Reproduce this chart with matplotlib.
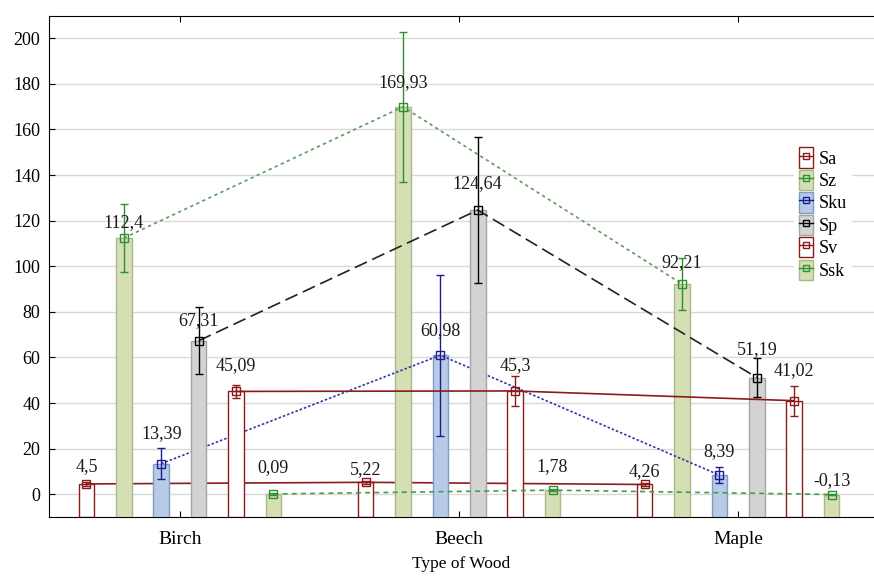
import numpy as np
import matplotlib.pyplot as plt
from matplotlib.patches import Rectangle
from matplotlib.lines import Line2D

plt.rcParams["font.family"] = ["Liberation Serif", "DejaVu Serif"]

woods = ["Birch", "Beech", "Maple"]
series = ["Sa", "Sz", "Sku", "Sp", "Sv", "Ssk"]

# means per wood type
sa = [4.5, 5.22, 4.26]
sz = [112.4, 169.93, 92.21]
sku = [13.39, 60.98, 8.39]
sp = [67.31, 124.64, 51.19]
sv = [45.09, 45.3, 41.02]
ssk = [0.09, 1.78, -0.13]

# half-width of the confidence intervals
sa_err = [0.8, 0.7, 0.6]
sz_err = [15.0, 33.0, 11.5]
sku_err = [6.8, 35.3, 3.5]
sp_err = [14.6, 32.2, 8.6]
sv_err = [2.8, 6.5, 6.6]
ssk_err = [0.4, 0.5, 0.4]

values = [sa, sz, sku, sp, sv, ssk]
errors = [sa_err, sz_err, sku_err, sp_err, sv_err, ssk_err]

# fill, edge, marker colour, line colour, line style
red = "#8b1a1a"
green = "#2f8f2f"
styles = [
    ("white", red, red, red, "-"),
    ("#d4dfb4", "#a9b98c", green, "#5f9a5f", (0, (2, 2))),
    ("#b8cbe6", "#7f9cc8", "#1c1c90", "#3535a5", (0, (1.5, 1.2))),
    ("#d3d3d3", "#a5a5a5", "black", "#222222", (0, (8, 3.5))),
    ("white", red, red, red, "-"),
    ("#d4dfb4", "#a9b98c", green, "#4a9a4a", (0, (3, 2.5))),
]

# label offsets above each point, in pixels
label_px = [
    [17, 13, 13],
    [15, 24, 21],
    [30, 25, 23],
    [20, 26, 28],
    [26, 25, 30],
    [26, 24, 14],
]

ymin, ymax = -10, 210

fig = plt.figure(figsize=(8.74, 5.76), dpi=100)
ax = fig.add_axes([48.5 / 874, 59 / 576, 1 - 48.5 / 874, 501.5 / 576])

x = np.arange(len(woods))
step = 0.134
width = 0.056

for i, name in enumerate(series):
    fill, edge, mcol, lcol, ls = styles[i]
    xs = x + (i - 2.5) * step
    v = np.array(values[i])
    # bars rise from the bottom of the plot area
    ax.bar(xs, v - ymin, width, bottom=ymin, color=fill, edgecolor=edge,
           linewidth=1, zorder=2 + 2 * i)
    ax.plot(xs, v, color=lcol, linestyle=ls, linewidth=1.2, zorder=3 + 2 * i)
    ax.errorbar(xs, v, yerr=errors[i], fmt="none", ecolor=mcol,
                elinewidth=1, capsize=3, capthick=1, zorder=3 + 2 * i)
    ax.plot(xs, v, linestyle="none", marker="s", ms=6, mfc="none",
            mec=mcol, mew=1, zorder=3 + 2 * i)
    for xv, val, off in zip(xs, values[i], label_px[i]):
        ax.annotate(f"{val:g}".replace(".", ","), (xv, val),
                    xytext=(0, off * 0.72), textcoords="offset points",
                    ha="center", va="center", fontsize=13, color="#1a1a1a",
                    zorder=20)

ax.set_xlim(-0.471, 2.487)
ax.set_ylim(ymin, ymax)
ax.set_yticks(np.arange(0, 201, 20))
ax.set_xticks(x)
ax.set_xticklabels(woods, fontsize=14)
ax.tick_params(axis="y", direction="in", length=4, labelsize=13, pad=6)
ax.tick_params(axis="x", direction="in", length=4, top=True, pad=10)
ax.grid(axis="y", color="#dadada", linewidth=1)
ax.set_axisbelow(True)
ax.spines["right"].set_visible(False)
ax.set_xlabel("Type of Wood", fontsize=12.5, labelpad=6)

handles = []
for i, name in enumerate(series):
    fill, edge, mcol, lcol, ls = styles[i]
    box = Rectangle((0, 0), 1, 1, facecolor=fill, edgecolor=edge, linewidth=1)
    mark = Line2D([], [], color=mcol, marker="s", ms=4, mfc="none", mec=mcol,
                  linewidth=1)
    handles.append((box, mark))
leg = ax.legend(handles, series, loc="upper left",
                bbox_to_anchor=(785 / 874, 443 / 576),
                bbox_transform=fig.transFigure, fontsize=13,
                handlelength=0.75, handleheight=1.35, handletextpad=0.3,
                labelspacing=0.12, borderpad=0.3, frameon=True,
                fancybox=False, edgecolor="none", facecolor="white",
                framealpha=1)
leg.set_zorder(30)

fig.savefig("out.png", dpi=100)
